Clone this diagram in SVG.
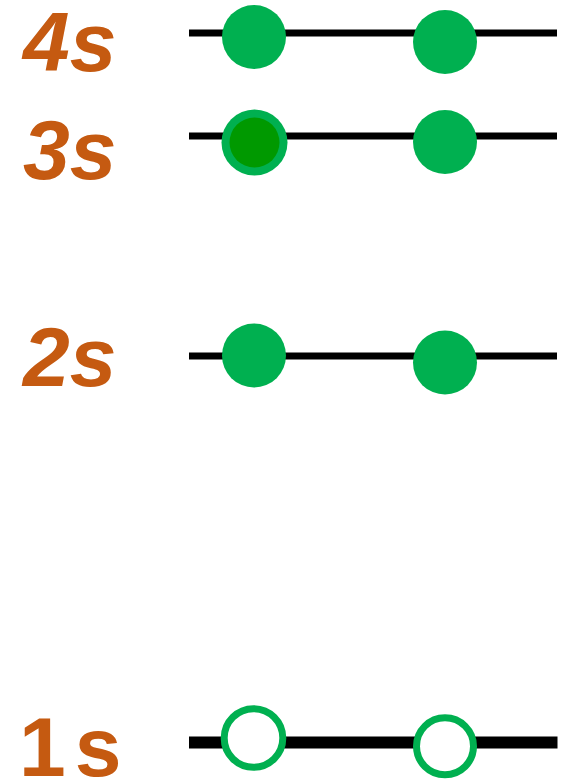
<svg xmlns="http://www.w3.org/2000/svg" width="572" height="780" viewBox="0 0 572 780">
<style>
.lbl{font-family:"Liberation Sans",Arial,sans-serif;font-weight:bold;font-style:italic;font-size:84px;fill:#C55A11}
.line{stroke:#000;stroke-width:7}
.dot{fill:#00B050}
.hole{fill:#fff;stroke:#00B050;stroke-width:7}
</style>
<rect width="572" height="780" fill="#fff"/>
<g id="level-4s">
<line class="line" x1="189" y1="33" x2="557" y2="33"/>
<circle class="dot" cx="254" cy="37" r="32"/>
<circle class="dot" cx="445" cy="42" r="32"/>
<text class="lbl" x="23" y="71">4s</text>
</g>
<g id="level-3s">
<line class="line" x1="189" y1="136" x2="557" y2="136"/>
<circle class="dot" cx="254.5" cy="142.5" r="33"/>
<circle cx="254.5" cy="142.5" r="25" fill="#009900"/>
<circle class="dot" cx="445" cy="142" r="32"/>
<text class="lbl" x="23" y="179">3s</text>
</g>
<g id="level-2s">
<line class="line" x1="189" y1="356" x2="557" y2="356"/>
<circle class="dot" cx="254" cy="355.5" r="32"/>
<circle class="dot" cx="445" cy="362.5" r="32"/>
<text class="lbl" x="23" y="386">2s</text>
</g>
<g id="level-1s">
<line x1="189" y1="742.5" x2="557.5" y2="742.5" stroke="#000" stroke-width="12"/>
<circle class="hole" cx="253.5" cy="738" r="29.3"/>
<circle class="hole" cx="445" cy="746.3" r="28.5" stroke-width="6.5"/>
<text class="lbl" x="19" y="776" style="font-style:normal">1<tspan dx="9">s</tspan></text>
</g>
</svg>
